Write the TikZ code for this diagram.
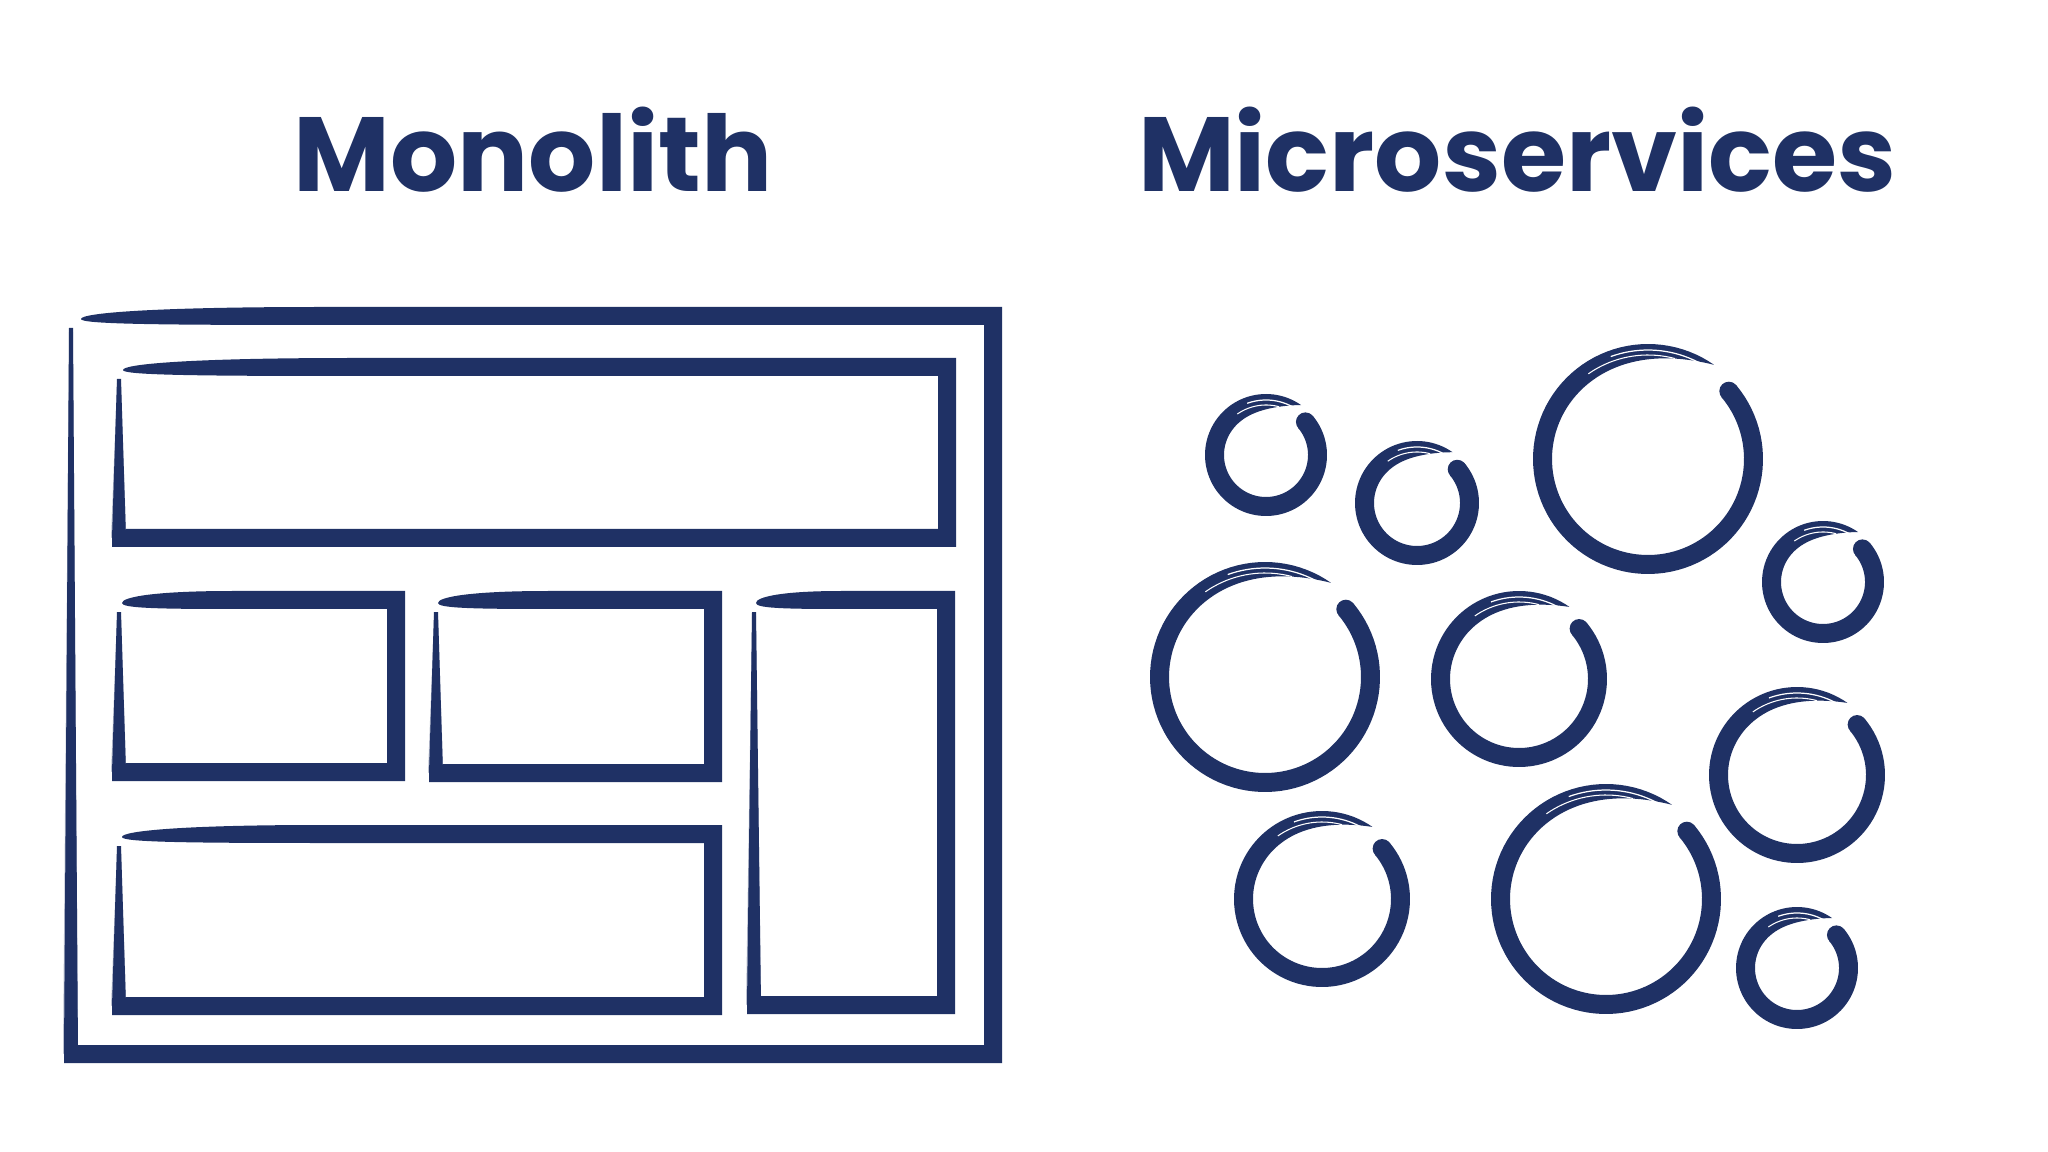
\documentclass[tikz,border=0pt]{standalone}
\usepackage{fontspec}
\newfontfamily\titlefont{Poppins}
\usepackage{tikz}
\definecolor{ink}{RGB}{31,49,101}

% box drawn with a brush: tapered top, thick right and bottom, dry left side
% #1 left, #2 top, #3 right, #4 bottom, #5 tip of top stroke, #6 taper, #7 left width
\newcommand{\brushbox}[7]{%
  \fill[ink] (#5,#2+3) .. controls (#5,#2-3) and (#5+0.3*#6,#2-9) .. (#5+#6,#2-9)
    -- (#3+9,#2-9) -- (#3+9,#4+9) -- (#1-#7/2,#4+9) -- (#1-#7/2,#4-9) -- (#3-9,#4-9)
    -- (#3-9,#2+9) -- (#5+#6,#2+9) .. controls (#5+0.3*#6,#2+9) and (#5,#2+8) .. cycle;
  \fill[ink!30] (#1-#7/2-1,#4) -- (#1-2,#2+16) -- (#1+2,#2+16) -- (#1+#7/2,#4-9) -- cycle;
  \fill[ink] (#1-#7/2,#4) -- (#1-2,#2+12) -- (#1+2,#2+12) -- (#1+#7/2,#4) -- cycle;
}

% brush circle, open at the top right
% #1 x, #2 y, #3 outer radius
\newcommand{\enso}[3]{%
  \begin{scope}[shift={(#1,#2)},yscale=-1]
    \fill[ink] plot[domain=40:-305,samples=100] ({#3*cos(\x)},{#3*sin(\x)})
      -- plot[domain=-305:-180,samples=40] ({(#3-19*(1-((-\x-180)/125)^5))*cos(\x)},{(#3-19*(1-((-\x-180)/125)^5))*sin(\x)})
      -- plot[domain=-180:40,samples=80] ({(#3-19)*cos(\x)},{(#3-19)*sin(\x)})
      -- cycle;
    \fill[ink] (40:{#3-9.5}) circle[radius=9.5];
    \draw[white,line width=0.35pt] plot[domain=-250:-300,samples=20] ({(#3-6)*cos(\x)},{(#3-6)*sin(\x)});
    \draw[white,line width=0.3pt] plot[domain=-235:-285,samples=20] ({(#3-11)*cos(\x)},{(#3-11)*sin(\x)});
  \end{scope}}

\begin{document}
\begin{tikzpicture}[x=0.01cm,y=-0.01cm,
        heading/.style={anchor=base,text=ink,font=\titlefont\bfseries\fontsize{30}{36}\selectfont}]
        \fill[white] (0,0) rectangle (2048,1152);
        \useasboundingbox (0,0) rectangle (2048,1152);

        \node(monolith) at (533,192) [heading] {Monolith};
        \node(micro) at (1517,192) [heading] {Microservices};

        \brushbox{71}{316}{993}{1054}{81}{240}{14}
        \brushbox{119}{367}{947}{538}{123}{230}{14}
        \brushbox{119}{600}{396}{772}{122}{110}{14}
        \brushbox{436}{600}{713}{773}{438}{110}{14}
        \brushbox{754}{600}{946}{1005}{756}{85}{14}
        \brushbox{119}{834}{713}{1006}{122}{200}{14}

        \enso{1266}{455}{61}
        \enso{1417}{503}{62}
        \enso{1648}{459}{115}
        \enso{1823}{582}{61}
        \enso{1265}{677}{115}
        \enso{1519}{679}{88}
        \enso{1797}{775}{88}
        \enso{1322}{899}{88}
        \enso{1606}{899}{115}
        \enso{1797}{968}{61}
\end{tikzpicture}
\end{document}
